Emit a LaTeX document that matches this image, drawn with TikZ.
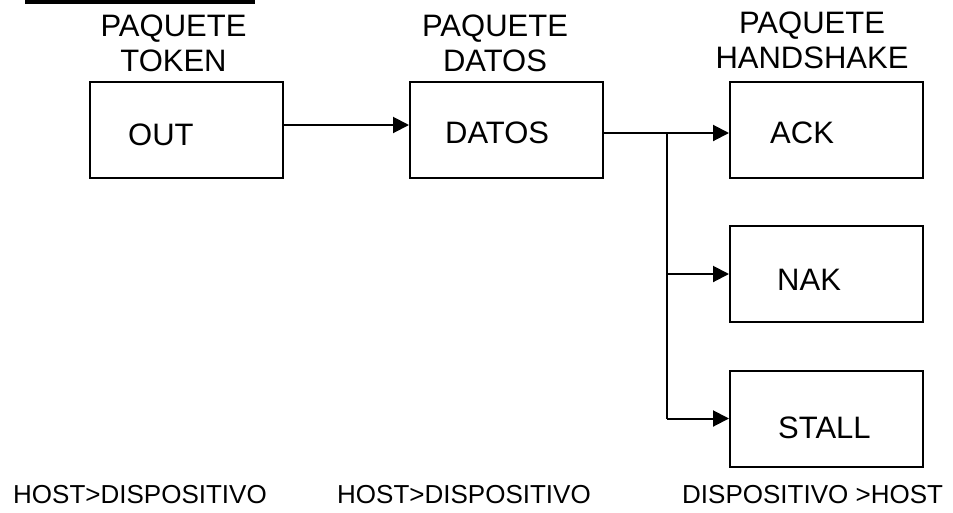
\documentclass[tikz,border=0pt]{standalone}
\usepackage{fontspec}
\setmainfont{Liberation Sans}
\usetikzlibrary{arrows.meta}
\begin{document}
\begin{tikzpicture}[x=1pt,y=-1pt,
  pbox/.style={draw, line width=2pt, minimum width=193pt, minimum height=96pt, inner sep=0pt},
  btxt/.style={anchor=base west, inner sep=0pt, font=\fontsize{31}{35}\selectfont},
  toplab/.style={anchor=base, inner sep=0pt, align=center, font=\fontsize{31}{35}\selectfont},
  botlab/.style={anchor=base west, inner sep=0pt, font=\fontsize{26}{30}\selectfont},
  conn/.style={line width=2pt},
  arr/.style={line width=2pt, -{Triangle[length=16pt,width=16pt]}}]
\useasboundingbox (0,0) rectangle (953,512);
\fill (25,0) rectangle (255,4);
% boxes
\node[pbox] (out) at (186.5,130) {};
\node[pbox] (datos) at (506.5,130) {};
\node[pbox] (ack) at (826.5,130) {};
\node[pbox] (nak) at (826.5,274) {};
\node[pbox] (stall) at (826.5,418.5) {};
% box texts
\node[btxt] (outt) at (128,145) {OUT};
\node[btxt] (datost) at (445,143) {DATOS};
\node[btxt] (ackt) at (770,143) {ACK};
\node[btxt] (nakt) at (777,290) {NAK};
\node[btxt] (stallt) at (778,438) {STALL};
% top labels (anchor = baseline of the last line)
\node[toplab] (l1) at (173.5,71.7) {PAQUETE\\TOKEN};
\node[toplab] (l2) at (495,71.7) {PAQUETE\\DATOS};
\node[toplab] (l3) at (812,68.3) {PAQUETE\\HANDSHAKE};
% bottom labels
\node[botlab] (b1) at (13,503) {HOST>DISPOSITIVO};
\node[botlab] (b2) at (337,503) {HOST>DISPOSITIVO};
\node[botlab] (b3) at (682,503) {DISPOSITIVO >HOST};
% connectors
\coordinate (j) at (667,133);
\draw[arr] ([yshift=5pt]out.east) -- ([yshift=5pt]datos.west);
\draw[conn] (datos.east |- j) -- (j);
\draw[arr] (j) -- (ack.west |- j);
\draw[conn] (j) -- (j |- stall.west);
\draw[arr] (j |- nak.west) -- (nak.west);
\draw[arr] (j |- stall.west) -- (stall.west);
\end{tikzpicture}
\end{document}
